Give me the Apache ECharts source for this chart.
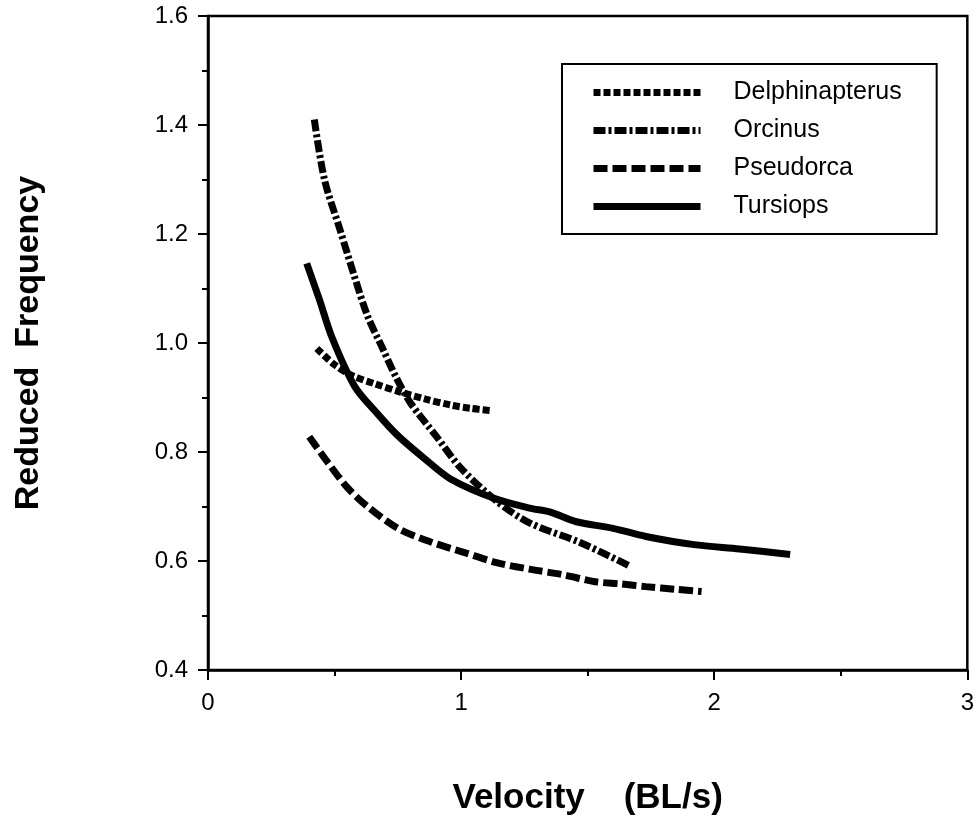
<!DOCTYPE html>
<html><head><meta charset="utf-8">
<script src="https://cdn.jsdelivr.net/npm/echarts@6/dist/echarts.min.js"></script>
<style>html,body{margin:0;padding:0;background:#fff}#c{width:977px;height:821px}</style>
</head><body><div id="c"></div>
<script>
const seriesNames = ['Delphinapterus', 'Orcinus', 'Pseudorca', 'Tursiops'];
const delphX = [0.43, 0.50, 0.57, 0.66, 0.76, 0.86, 0.96, 1.04, 1.12];
const delphY = [0.99, 0.96, 0.94, 0.925, 0.91, 0.897, 0.886, 0.88, 0.876];
const orcX = [0.42, 0.46, 0.52, 0.58, 0.63, 0.69, 0.74, 0.80, 0.90, 1.00, 1.14, 1.27, 1.47, 1.67];
const orcY = [1.41, 1.30, 1.21, 1.12, 1.05, 0.99, 0.94, 0.89, 0.83, 0.77, 0.71, 0.67, 0.634, 0.59];
const pseX = [0.40, 0.47, 0.55, 0.63, 0.75, 0.88, 1.01, 1.14, 1.27, 1.40, 1.53, 1.63, 1.73, 1.85, 1.95];
const pseY = [0.828, 0.783, 0.735, 0.70, 0.66, 0.635, 0.616, 0.597, 0.585, 0.575, 0.562, 0.558, 0.553, 0.548, 0.544];
const turX = [0.39, 0.44, 0.49, 0.58, 0.67, 0.75, 0.85, 0.96, 1.13, 1.27, 1.35, 1.455, 1.6, 1.73, 1.92, 2.1, 2.30];
const turY = [1.146, 1.08, 1.01, 0.92, 0.87, 0.83, 0.79, 0.75, 0.715, 0.697, 0.69, 0.672, 0.66, 0.645, 0.63, 0.622, 0.612];
const xTicks = [0, 1, 2, 3];
const yTicks = [0.4, 0.6, 0.8, 1.0, 1.2, 1.4, 1.6];

const pairs = (xs, ys) => xs.map((x, i) => [x, ys[i]]);
const dashes = [[7, 3], [12, 3, 3, 3], [14, 5], 'solid'];
const widths = [7, 7, 7, 7];
const datas = [pairs(delphX, delphY), pairs(orcX, orcY), pairs(pseX, pseY), pairs(turX, turY)];

const chart = echarts.init(document.getElementById('c'));
const font = 'Liberation Sans, Arial, sans-serif';
chart.setOption({
  animation: false,
  backgroundColor: '#fff',
  grid: { left: 208, right: 3, top: 16, bottom: 138, show: true, borderColor: '#000', borderWidth: 2.5 },
  legend: {
    left: 562, top: 64, orient: 'vertical',
    padding: [16, 35, 15, 28],
    itemWidth: 107, itemHeight: 25, itemGap: 13,
    borderColor: '#000', borderWidth: 2,
    itemStyle: { opacity: 0 },
    lineStyle: { width: 7 },
    textStyle: { fontFamily: font, fontSize: 25, color: '#000', padding: [0, 0, 0, 28] },
    data: seriesNames
  },
  xAxis: {
    type: 'value', min: 0, max: 3, interval: 1,
    name: 'Velocity    (BL/s)', nameLocation: 'middle', nameGap: 111,
    nameTextStyle: { fontFamily: font, fontSize: 35, fontWeight: 'bold', color: '#000' },
    axisLine: { lineStyle: { color: '#000', width: 2.5 } },
    axisTick: { length: 10, lineStyle: { color: '#000', width: 2 } },
    minorTick: { show: true, splitNumber: 2, length: 6, lineStyle: { color: '#000', width: 2 } },
    splitLine: { show: false },
    axisLabel: { fontFamily: font, fontSize: 24, color: '#000', margin: 21,
      formatter: v => xTicks.includes(v) ? String(v) : '' }
  },
  yAxis: {
    type: 'value', min: 0.4, max: 1.6, interval: 0.2,
    name: 'Reduced  Frequency', nameLocation: 'middle', nameGap: 162, nameRotate: 90,
    nameTextStyle: { fontFamily: font, fontSize: 34, fontWeight: 'bold', color: '#000' },
    axisLine: { show: true, lineStyle: { color: '#000', width: 2.5 } },
    axisTick: { show: true, length: 10, lineStyle: { color: '#000', width: 2 } },
    minorTick: { show: true, splitNumber: 2, length: 6, lineStyle: { color: '#000', width: 2 } },
    splitLine: { show: false },
    axisLabel: { fontFamily: font, fontSize: 24, color: '#000', margin: 20,
      formatter: v => { const t = yTicks.find(k => Math.abs(k - v) < 1e-6); return t === undefined ? '' : t.toFixed(1); } }
  },
  series: seriesNames.map((n, i) => ({
    name: n, type: 'line', data: datas[i], smooth: 0.3, symbol: 'none',
    itemStyle: { color: '#000' },
    lineStyle: { color: '#000', width: widths[i], type: dashes[i], cap: 'butt' }
  }))
});
</script></body></html>
